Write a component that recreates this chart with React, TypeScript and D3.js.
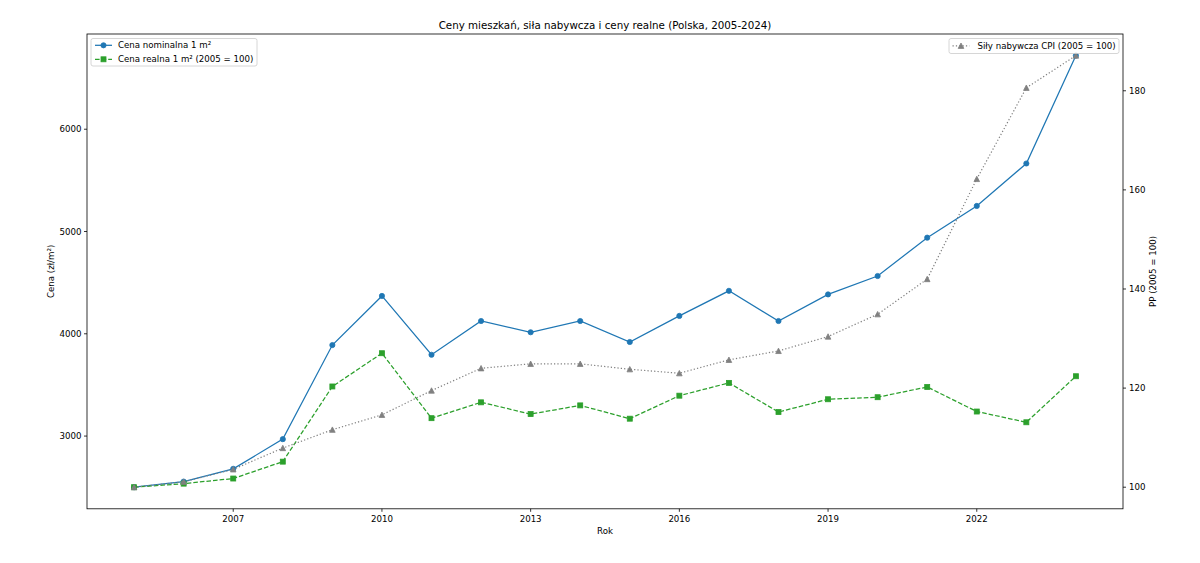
import React from "react";
import * as d3 from "d3";

const years = [2005, 2006, 2007, 2008, 2009, 2010, 2011, 2012, 2013, 2014, 2015, 2016, 2017, 2018, 2019, 2020, 2021, 2022, 2023, 2024];
const nominal = [2500, 2555, 2680, 2970, 3890, 4370, 3795, 4125, 4015, 4125, 3920, 4175, 4420, 4125, 4385, 4565, 4940, 5250, 5665, 6720];
const real = [2500, 2535, 2585, 2750, 3485, 3810, 3175, 3330, 3215, 3300, 3170, 3395, 3520, 3235, 3360, 3380, 3480, 3240, 3135, 3585];
const cpi = [100, 101.1, 103.6, 107.9, 111.6, 114.6, 119.5, 124.0, 124.9, 124.9, 123.8, 123.0, 125.7, 127.5, 130.4, 134.9, 142.0, 162.2, 180.6, 187.1];

const xTicks = [2007, 2010, 2013, 2016, 2019, 2022];
const yLeftTicks = [3000, 4000, 5000, 6000];
const yRightTicks = [100, 120, 140, 160, 180];

const title = "Ceny mieszkań, siła nabywcza i ceny realne (Polska, 2005-2024)";
const labelNominal = "Cena nominalna 1 m²";
const labelReal = "Cena realna 1 m² (2005 = 100)";
const labelCpi = "Siły nabywcza CPI (2005 = 100)";
const xLabel = "Rok";
const yLeftLabel = "Cena (zł/m²)";
const yRightLabel = "PP (2005 = 100)";

const BLUE = "#1f77b4";
const GREEN = "#2ca02c";
const GRAY = "#808080";
const FONT = "DejaVu Sans";
const FS = 8.65;

function padded(min: number, max: number): [number, number] {
  const m = (max - min) * 0.05;
  return [min - m, max + m];
}

export default function App() {
  const W = 1200, H = 563;
  const L = 87, R = 1123, T = 34, B = 508.8;

  const x = d3.scaleLinear().domain(padded(d3.min(years)!, d3.max(years)!)).range([L, R]);
  const leftAll = [...nominal, ...real];
  const yL = d3.scaleLinear().domain(padded(d3.min(leftAll)!, d3.max(leftAll)!)).range([B, T]);
  const yR = d3.scaleLinear().domain(padded(d3.min(cpi)!, d3.max(cpi)!)).range([B, T]);

  const lineL = d3.line<number>().x((_, i) => x(years[i])).y((d) => yL(d));
  const lineR = d3.line<number>().x((_, i) => x(years[i])).y((d) => yR(d));

  const circle = (cx: number, cy: number, key: any) => (
    <circle key={key} cx={cx} cy={cy} r={2.6} fill={BLUE} stroke={BLUE} strokeWidth={0.8} />
  );
  const square = (cx: number, cy: number, key: any) => (
    <rect key={key} x={cx - 2.5} y={cy - 2.5} width={5} height={5} fill={GREEN} stroke={GREEN} strokeWidth={0.8} />
  );
  const tri = (cx: number, cy: number, key: any) => (
    <path key={key} d={`M${cx},${cy - 2.8} L${cx + 2.8},${cy + 2.6} L${cx - 2.8},${cy + 2.6} Z`} fill={GRAY} stroke={GRAY} strokeWidth={0.8} />
  );

  return (
    <svg width={W} height={H} style={{ position: "absolute", left: 0, top: 0, background: "#fff" }} fontFamily={FONT}>
      <rect x={0} y={0} width={W} height={H} fill="#fff" />
      {/* title */}
      <text x={(L + R) / 2} y={25} textAnchor="middle" dominantBaseline="central" fontSize={10.3} fill="#000">{title}</text>

      {/* series: nominal */}
      <path d={lineL(nominal)!} fill="none" stroke={BLUE} strokeWidth={1.25} />
      {nominal.map((v, i) => circle(x(years[i]), yL(v), "n" + i))}
      {/* series: real */}
      <path d={lineL(real)!} fill="none" stroke={GREEN} strokeWidth={1.25} strokeDasharray="4.6,2" />
      {real.map((v, i) => square(x(years[i]), yL(v), "r" + i))}
      {/* series: cpi */}
      <path d={lineR(cpi)!} fill="none" stroke={GRAY} strokeWidth={1.2} strokeDasharray="1.25,2.1" />
      {cpi.map((v, i) => tri(x(years[i]), yR(v), "c" + i))}

      {/* spines */}
      <rect x={L} y={T} width={R - L} height={B - T} fill="none" stroke="#000" strokeWidth={0.8} />

      {/* x ticks */}
      {xTicks.map((t) => (
        <g key={"xt" + t}>
          <line x1={x(t)} x2={x(t)} y1={B} y2={B + 3} stroke="#000" strokeWidth={0.8} />
          <text x={x(t)} y={518.5} textAnchor="middle" dominantBaseline="central" fontSize={FS} fill="#000">{t}</text>
        </g>
      ))}
      <text x={(L + R) / 2} y={531} textAnchor="middle" dominantBaseline="central" fontSize={FS} fill="#000">{xLabel}</text>

      {/* left y ticks */}
      {yLeftTicks.map((t) => (
        <g key={"yl" + t}>
          <line x1={L - 3} x2={L} y1={yL(t)} y2={yL(t)} stroke="#000" strokeWidth={0.8} />
          <text x={81.5} y={yL(t)} textAnchor="end" dominantBaseline="central" fontSize={FS} fill="#000">{t}</text>
        </g>
      ))}
      <text transform={`translate(51,${(T + B) / 2}) rotate(-90)`} textAnchor="middle" dominantBaseline="central" fontSize={FS} fill="#000">{yLeftLabel}</text>

      {/* right y ticks */}
      {yRightTicks.map((t) => (
        <g key={"yr" + t}>
          <line x1={R} x2={R + 3} y1={yR(t)} y2={yR(t)} stroke="#000" strokeWidth={0.8} />
          <text x={1129} y={yR(t)} textAnchor="start" dominantBaseline="central" fontSize={FS} fill="#000">{t}</text>
        </g>
      ))}
      <text transform={`translate(1153,${(T + B) / 2}) rotate(-90)`} textAnchor="middle" dominantBaseline="central" fontSize={FS} fill="#000">{yRightLabel}</text>

      {/* left legend */}
      <g>
        <rect x={91} y={38.5} width={166} height={27.5} rx={2} fill="#fff" fillOpacity={0.8} stroke="#cccccc" strokeWidth={0.8} />
        <line x1={95} x2={112} y1={45.3} y2={45.3} stroke={BLUE} strokeWidth={1.25} />
        {circle(103.5, 45.3, "ln")}
        <text x={118} y={45.3} dominantBaseline="central" fontSize={FS} fill="#000">{labelNominal}</text>
        <line x1={95} x2={112} y1={59.3} y2={59.3} stroke={GREEN} strokeWidth={1.25} strokeDasharray="4.6,2" />
        {square(103.5, 59.3, "lr")}
        <text x={118} y={59.3} dominantBaseline="central" fontSize={FS} fill="#000">{labelReal}</text>
      </g>

      {/* right legend */}
      <g>
        <rect x={949} y={38.5} width={170} height={15} rx={2} fill="#fff" fillOpacity={0.8} stroke="#cccccc" strokeWidth={0.8} />
        <line x1={952.5} x2={969.5} y1={45.8} y2={45.8} stroke={GRAY} strokeWidth={1.2} strokeDasharray="1.25,2.1" />
        {tri(961, 45.8, "lc")}
        <text x={977.5} y={45.8} dominantBaseline="central" fontSize={FS} fill="#000">{labelCpi}</text>
      </g>
    </svg>
  );
}
